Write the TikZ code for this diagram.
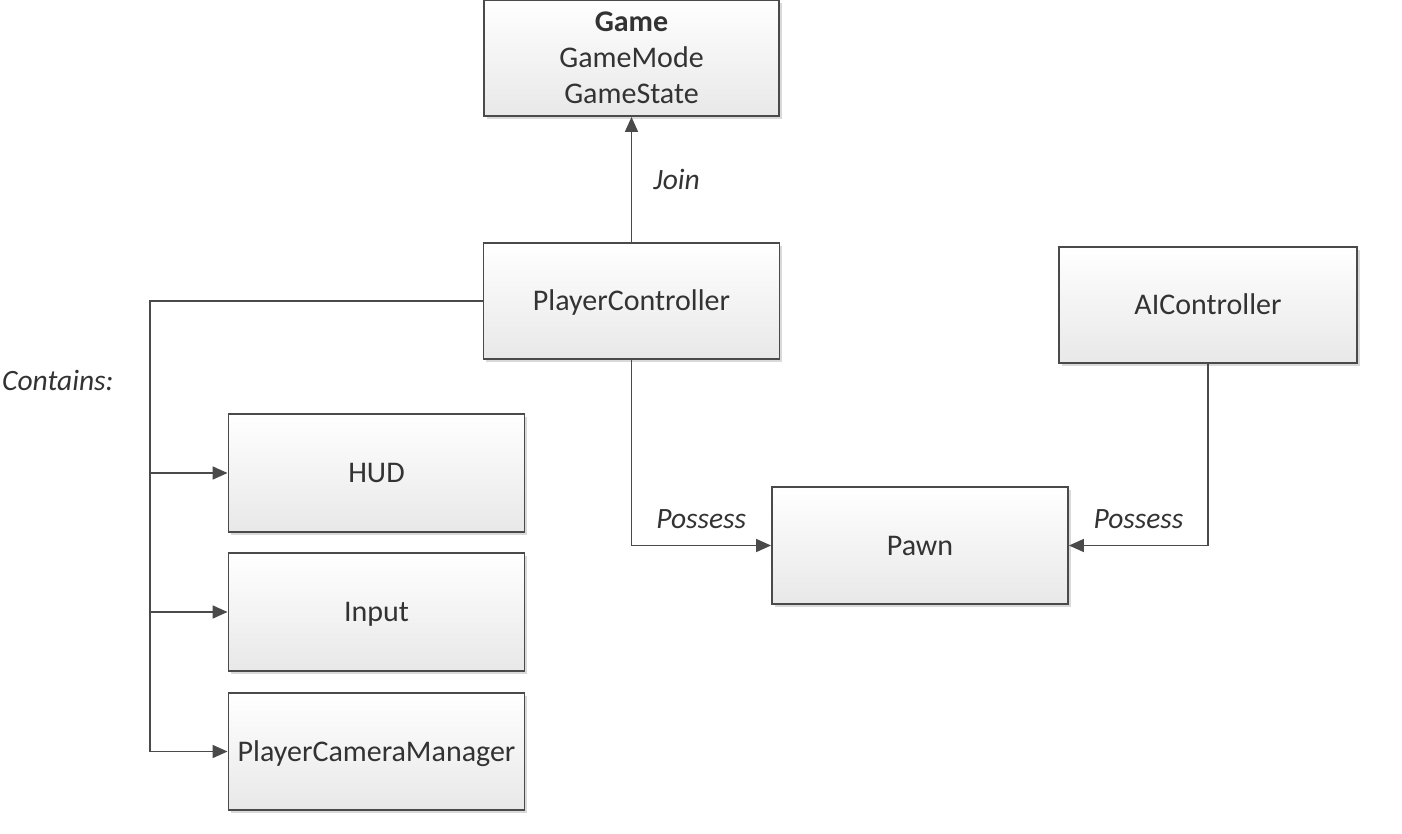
\documentclass[tikz,border=0pt]{standalone}
\usepackage{fontspec}
\setmainfont{Carlito}
\usetikzlibrary{arrows.meta,shadows}
\definecolor{boxline}{HTML}{4A4A4A}
\definecolor{conline}{HTML}{4A4A4A}
\definecolor{txt}{HTML}{333333}
\definecolor{fillbot}{HTML}{E8E8E8}
\tikzset{
  classbox/.style={draw=boxline, line width=1.9pt, top color=white, bottom color=fillbot,
    text=txt, align=center, inner sep=0pt,
    drop shadow={shadow xshift=2.5pt, shadow yshift=-2.5pt, opacity=0.15, fill=black},
    font=\fontsize{30}{36}\selectfont},
  onebox/.style={classbox, text height=19.3pt, text depth=0pt},
  conn/.style={draw=conline, line width=1.7pt},
  arr/.style={conn, -{Triangle[length=15pt, width=13pt]}},
  lbl/.style={text=txt, font=\fontsize{29.5}{36}\selectfont\itshape, inner sep=0pt}
}
\begin{document}
\begin{tikzpicture}[x=1pt, y=-1pt]
\useasboundingbox (0,0) rectangle (1402,833);
% boxes
\node[classbox, minimum width=295pt, minimum height=116pt] (game) at (631.5,58) {\textbf{Game}\\GameMode\\GameState};
\node[onebox, minimum width=296pt, minimum height=116pt] (pc) at (631.5,301) {PlayerController};
\node[onebox, minimum width=298pt, minimum height=116pt] (ai) at (1208,305) {AIController};
\node[onebox, minimum width=296pt, minimum height=118pt] (hud) at (376.5,473) {HUD};
\node[onebox, minimum width=296pt, minimum height=118pt] (input) at (376.5,612) {Input};
\node[onebox, minimum width=296pt, minimum height=117pt] (pcm) at (376.5,751.5) {PlayerCameraManager};
\node[onebox, minimum width=296pt, minimum height=117pt] (pawn) at (920,545.5) {Pawn};
% label Contains
\node[lbl, anchor=west] (contains) at (2,380) {Contains:};
% connectors
\draw[arr] (pc.north) -- (game.south) node[lbl, midway, anchor=west, xshift=21pt] (join) {Join};
\coordinate (bus) at (150,751.5);
\draw[conn] (pc.west) -| (bus);
\draw[arr] (hud.west -| bus) -- (hud.west);
\draw[arr] (input.west -| bus) -- (input.west);
\draw[arr] (bus) -- (pcm.west);
\draw[arr] (pc.south) |- (pawn.west) node[lbl, pos=0.75, anchor=base, yshift=17pt] (poss1) {Possess};
\draw[arr] (ai.south) |- (pawn.east) node[lbl, pos=0.75, anchor=base, yshift=17pt] (poss2) {Possess};
\end{tikzpicture}
\end{document}
